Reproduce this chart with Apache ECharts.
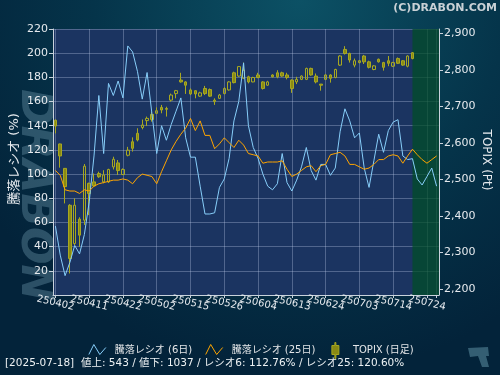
<!DOCTYPE html>
<html><head><meta charset="utf-8">
<script src="https://cdn.jsdelivr.net/npm/echarts@6/dist/echarts.min.js"></script>
<style>html,body{margin:0;padding:0;background:#03243a}#c{width:500px;height:375px}</style>
</head><body><div id="c"></div>
<script>
// Trading dates (YYMMDD); the last five are the empty future slots on the right
const dates = [
'250402','250403','250404','250407','250408','250409','250410','250411','250414','250415',
'250416','250417','250418','250421','250422','250423','250424','250425','250428','250430',
'250501','250502','250507','250508','250509','250512','250513','250514','250515','250516',
'250519','250520','250521','250522','250523','250526','250527','250528','250529','250530',
'250602','250603','250604','250605','250606','250609','250610','250611','250612','250613',
'250616','250617','250618','250619','250620','250623','250624','250625','250626','250627',
'250630','250701','250702','250703','250704','250707','250708','250709','250710','250711',
'250714','250715','250716','250717','250718','250722','250723','250724','250725','250728'
];
// 騰落レシオ (6日)
const ratio6 = [
57,33,16,27,41,34,50,77,115,165,
117,175,165,177,163,206,201,185,162,184,
150,117,140,128,141,152,163,130,114,114,
90,67,67,68,89,96,113,144,160,192,
140,122,113,100,90,87,92,117,93,86,
95,106,122,103,95,108,108,99,105,135,
154,144,130,134,105,89,111,133,118,136,
143,145,115,112,112.76,96,91,98,105,90
];
// 騰落レシオ (25日)
const ratio25 = [
103,99,87,86,86,84,87,86,90,92,
93,94,95,95,96,95,92,97,100,99,
98,92,102,111,120,127,133,138,146,136,
144,132,132,121,125,130,126,122,128,124,
117,116,115,109,110,110,110,111,104,98,
100,103,106,107,102,107,108,116,117,118,
115,108,108,106,104,105,108,112,112,115,
116,115,109,115,120.6,116,112,109,112,115
];
// TOPIX daily candles (04-02 .. 07-18)
const topixOpen = [
2662,2597,2530,2429,2324,2391,2388,2489,2493,2516,
2493,2493,2534,2545,2513,2566,2603,2626,2642,2661,
2678,2681,2697,2694,2717,2735,2772,2767,2745,2743,
2728,2749,2746,2717,2722,2735,2745,2792,2783,2777,
2781,2767,2786,2767,2758,2786,2792,2792,2786,2772,
2767,2774,2774,2804,2783,2761,2774,2786,2779,2813,
2856,2845,2813,2820,2838,2822,2801,2829,2820,2825,
2810,2831,2825,2810,2847
];
const topixClose = [
2646,2564,2480,2283,2429,2347,2536,2461,2482,2507,
2512,2527,2555,2524,2527,2580,2585,2608,2649,2667,
2664,2688,2690,2692,2731,2743,2767,2758,2734,2734,
2737,2735,2728,2713,2731,2749,2767,2765,2809,2799,
2767,2779,2779,2749,2767,2781,2781,2783,2779,2749,
2774,2783,2804,2786,2767,2758,2786,2777,2801,2838,
2845,2827,2825,2825,2822,2807,2811,2822,2807,2818,
2820,2818,2813,2838,2831
];
const topixLow = [
2626,2532,2434,2242,2320,2315,2375,2402,2480,2504,
2489,2490,2527,2512,2512,2563,2576,2604,2637,2646,
2658,2679,2681,2672,2713,2722,2765,2734,2731,2722,
2726,2731,2726,2704,2720,2733,2743,2763,2781,2775,
2763,2766,2777,2746,2756,2779,2777,2781,2774,2737,
2761,2772,2772,2784,2763,2743,2772,2765,2777,2811,
2842,2820,2807,2818,2816,2804,2799,2820,2798,2810,
2808,2816,2811,2807,2829
];
const topixHigh = [
2664,2598,2531,2432,2448,2396,2542,2491,2516,2521,
2525,2529,2562,2553,2530,2589,2615,2640,2664,2672,
2685,2697,2704,2699,2735,2745,2792,2769,2749,2744,
2740,2756,2749,2722,2734,2752,2769,2795,2810,2820,
2784,2781,2792,2769,2770,2788,2799,2795,2792,2774,
2781,2785,2806,2806,2790,2761,2788,2788,2803,2840,
2865,2847,2831,2827,2841,2825,2813,2831,2822,2838,
2822,2834,2827,2840,2849
];
const statusDate = '2025-07-18';
const advances = 543, declines = 1037, lastR6 = '112.76', lastR25 = '120.60';
const leftAxisName = '騰落レシオ (%)';
const rightAxisName = 'TOPIX (Pt)';

const FONT = 'DejaVu Sans, Noto Sans CJK JP, sans-serif';
const candleData = topixOpen.map((o, i) => [o, topixClose[i], topixLow[i], topixHigh[i]]);
const GRID_COLOR = 'rgba(190,205,235,0.33)';
const AXIS_COLOR = '#c9d2dc';
const LABEL_COLOR = '#e6eaee';
const LABEL_STEP = 7;

const chart = echarts.init(document.getElementById('c'), null, {renderer: 'canvas'});
chart.setOption({
  animation: false,
  backgroundColor: {type: 'radial', x: 0.6, y: 0, r: 1.0,
    colorStops: [{offset: 0, color: '#0c5165'}, {offset: 0.55, color: '#05344a'}, {offset: 1, color: '#03233a'}]},
  textStyle: {fontFamily: FONT},
  grid: {left: 53, right: 61, top: 29, bottom: 80, show: true, backgroundColor: '#1b3461', borderWidth: 0, outerBoundsMode: 'none'},
  legend: {
    top: 335, left: 'center', itemWidth: 21, itemHeight: 16, itemGap: 11,
    textStyle: {color: '#e4e6e8', fontSize: 10, fontFamily: FONT},
    data: [
      {name: '騰落レシオ (6日)', icon: 'path://M0,0 M21,16 M0,12 L5,2 L11,12 L17,5',
        itemStyle: {color: 'none', borderColor: '#87cefa', borderWidth: 1}},
      {name: '騰落レシオ (25日)', icon: 'path://M0,0 M21,16 M0,12 L5,2 L11,12 L17,5',
        itemStyle: {color: 'none', borderColor: '#ffa500', borderWidth: 1}},
      {name: 'TOPIX (日足)', icon: 'path://M0,0 M21,16 M8,0 L9,0 L9,3 L12,3 L12,12 L9,12 L9,16 L8,16 L8,12 L5,12 L5,3 L8,3 Z',
        itemStyle: {color: '#8a8a14', borderColor: '#a8a820', borderWidth: 1}}
    ]
  },
  xAxis: {
    type: 'category', data: dates, boundaryGap: true,
    axisLine: {show: true, lineStyle: {color: AXIS_COLOR, width: 1}},
    axisTick: {show: true, interval: LABEL_STEP - 1, alignWithLabel: true, length: 3, lineStyle: {color: AXIS_COLOR}},
    axisLabel: {interval: 0, rotate: -13, align: 'center', verticalAlign: 'middle', margin: 8,
      color: LABEL_COLOR, fontSize: 10, fontFamily: FONT,
      formatter: (v, idx) => (idx % LABEL_STEP === 0 ? v : '')},
    splitLine: {show: true, interval: LABEL_STEP - 1, alignWithLabel: true, lineStyle: {color: GRID_COLOR, width: 1}}
  },
  yAxis: [
    {type: 'value', position: 'left', min: 0, max: 220, interval: 20,
      axisLine: {show: true, lineStyle: {color: AXIS_COLOR}},
      axisTick: {show: true, length: 4, lineStyle: {color: AXIS_COLOR}},
      axisLabel: {color: LABEL_COLOR, fontSize: 11, margin: 5, showMinLabel: false, fontFamily: FONT},
      splitLine: {show: true, lineStyle: {color: GRID_COLOR}}},
    {type: 'value', position: 'right', min: 2183, max: 2912, splitNumber: 7,
      axisLine: {show: true, lineStyle: {color: AXIS_COLOR}},
      axisTick: {show: true, length: 4, lineStyle: {color: AXIS_COLOR}},
      axisLabel: {color: LABEL_COLOR, fontSize: 11, margin: 5, showMinLabel: false, showMaxLabel: false, fontFamily: FONT,
        formatter: v => (v % 100 === 0 ? v.toLocaleString('en-US') : '')},
      splitLine: {show: false}}
  ],
  series: [
    {name: 'TOPIX (日足)', type: 'candlestick', xAxisIndex: 0, yAxisIndex: 1, data: candleData, barWidth: 3,
      itemStyle: {color: 'rgba(0,0,0,0)', color0: '#8a8a14', borderColor: '#a8a820', borderColor0: '#a8a820', borderWidth: 1}},
    {name: '騰落レシオ (6日)', type: 'line', yAxisIndex: 0, data: ratio6, symbol: 'none', showSymbol: false,
      lineStyle: {color: '#87cefa', width: 1}, itemStyle: {color: '#87cefa'},
      markArea: {silent: true, itemStyle: {color: 'rgba(0,78,38,0.72)'}, data: [[{xAxis: dates[74]}, {}]]}},
    {name: '騰落レシオ (25日)', type: 'line', yAxisIndex: 0, data: ratio25, symbol: 'none', showSymbol: false,
      lineStyle: {color: '#ffa500', width: 1}, itemStyle: {color: '#ffa500'}}
  ],
  graphic: [
    {type: 'text', x: 33, y: 195, rotation: -Math.PI / 2, z: -10, silent: true,
      style: {text: 'DRABON', fill: 'rgba(120,160,180,0.36)', font: 'italic bold 44px DejaVu Sans',
        align: 'center', verticalAlign: 'middle', textAlign: 'center', textVerticalAlign: 'middle'}},
    {type: 'text', x: 15, y: 159, rotation: Math.PI / 2, silent: true,
      style: {text: leftAxisName, fill: LABEL_COLOR, font: '13px DejaVu Sans, Noto Sans CJK JP',
        align: 'center', verticalAlign: 'middle', textAlign: 'center', textVerticalAlign: 'middle'}},
    {type: 'text', x: 486, y: 160, rotation: -Math.PI / 2, silent: true,
      style: {text: rightAxisName, fill: LABEL_COLOR, font: '12px DejaVu Sans, Noto Sans CJK JP',
        align: 'center', verticalAlign: 'middle', textAlign: 'center', textVerticalAlign: 'middle'}},
    {type: 'text', right: 3, top: 3, silent: true,
      style: {text: '(C)DRABON.COM', fill: '#c9d1d6', font: 'bold 11px DejaVu Sans'}},
    {type: 'text', left: 5, top: 358, silent: true,
      style: {text: '[' + statusDate + ']  値上: ' + advances + ' / 値下: ' + declines + ' / レシオ6: ' + lastR6 + '% / レシオ25: ' + lastR25 + '%',
        fill: '#eef2f4', font: '10.5px DejaVu Sans, Noto Sans CJK JP'}},
    {type: 'polygon', silent: true,
      shape: {points: [[468, 348], [488, 347], [489, 356], [486, 356], [489, 367], [482, 367], [478, 356], [470, 357]]},
      style: {fill: 'rgba(70,115,135,0.75)'}}
  ]
});
</script>
</body></html>
